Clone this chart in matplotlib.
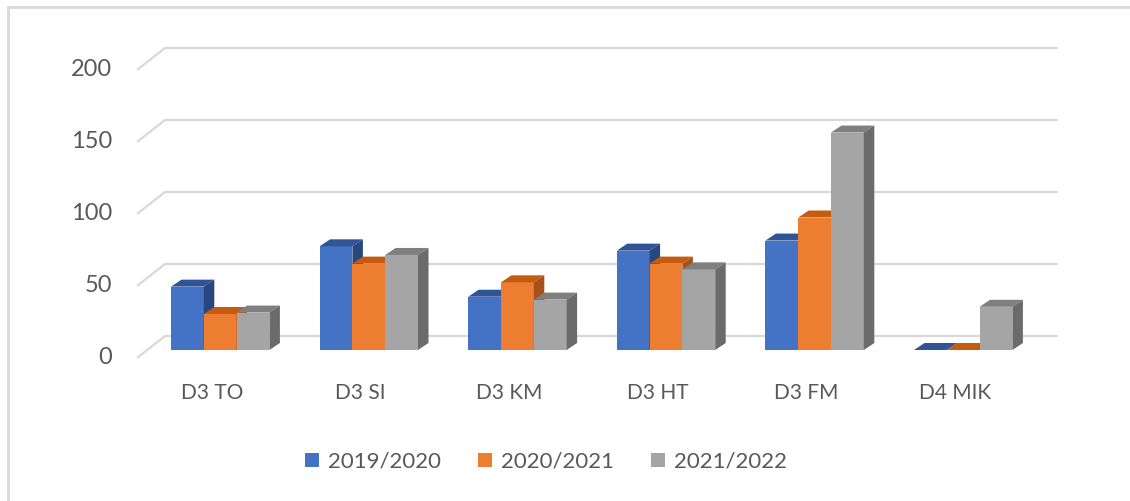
import matplotlib
matplotlib.use("Agg")
import matplotlib.pyplot as plt
from matplotlib.patches import Polygon, Patch
from matplotlib.lines import Line2D

# ---- data ----
categories = ["D3 TO", "D3 SI", "D3 KM", "D3 HT", "D3 FM", "D4 MIK"]
series_names = ["2019/2020", "2020/2021", "2021/2022"]
v2019 = [44, 72, 37, 69, 76, 0]
v2020 = [25, 60, 47, 60, 92, 0]
v2021 = [26, 66, 35, 56, 151, 30]
y_ticks = [0, 50, 100, 150, 200]

# ---- style ----
front_cols = ["#4472C4", "#ED7D31", "#A5A5A5"]
top_cols = ["#2F5597", "#C55A11", "#7F7F7F"]
side_cols = ["#284781", "#A9501A", "#6B6B6B"]
grid_col = "#D9D9D9"
text_col = "#595959"
FONT = "Lato"

W, H, DPI = 1130, 501, 100
fig = plt.figure(figsize=(W / DPI, H / DPI), dpi=DPI)

# layout (pixels)
ax_left_px, ax_right_px = 137, 1058
ax_top_px, ax_bot_px = 48, 358
px_per_cat = 148.6
cat0_px = 212
px_per_unit = 1.44
base_px = 350
wall_dx_px = 28.0
bar_depth_dx_px, bar_depth_dy_px = 10.5, 7.0
bar_left_off_px, bar_w_px = -41.0, 32.8

ax = fig.add_axes([ax_left_px / W, 1 - ax_bot_px / H,
                   (ax_right_px - ax_left_px) / W, (ax_bot_px - ax_top_px) / H])
xlim = ((ax_left_px - cat0_px) / px_per_cat, (ax_right_px - cat0_px) / px_per_cat)
ylim = (-(ax_bot_px - base_px) / px_per_unit, (base_px - ax_top_px) / px_per_unit)
ax.set_xlim(*xlim)
ax.set_ylim(*ylim)
ax.axis("off")

# gridlines (front diagonal + back wall)
wall_x = (ax_left_px + wall_dx_px - cat0_px) / px_per_cat
for v in y_ticks:
    y_front = v + ylim[0]
    y_back = v + ylim[0] + 22 / px_per_unit
    ax.plot([xlim[0], wall_x, xlim[1]], [y_front, y_back, y_back],
            color=grid_col, lw=1.6, zorder=1, solid_capstyle="butt", clip_on=False)
    ax.text(xlim[0] - 25 / px_per_cat, y_front, str(v), ha="right", va="center",
            fontsize=17, color=text_col, family=FONT)

# bars
series = [v2019, v2020, v2021]
bw = bar_w_px / px_per_cat
off0 = bar_left_off_px / px_per_cat
ddx = bar_depth_dx_px / px_per_cat
ddy = bar_depth_dy_px / px_per_unit
z = 3
for i, cat in enumerate(categories):
    for k, vals in enumerate(series):
        v = vals[i]
        x0 = i + off0 + k * bw
        x1 = x0 + bw
        ax.bar(x0, v, width=bw, align="edge", color=front_cols[k], zorder=z,
               linewidth=0)
        top = Polygon([(x0, v), (x1, v), (x1 + ddx, v + ddy), (x0 + ddx, v + ddy)],
                      closed=True, facecolor=top_cols[k], edgecolor="none", zorder=z)
        side = Polygon([(x1, 0), (x1 + ddx, ddy), (x1 + ddx, v + ddy), (x1, v)],
                       closed=True, facecolor=side_cols[k], edgecolor="none", zorder=z)
        ax.add_patch(top)
        ax.add_patch(side)
        z += 1
    ax.text(i, -(393 - base_px) / px_per_unit, cat, ha="center", va="center",
            fontsize=15, color=text_col, family=FONT, clip_on=False)

# legend
handles = [Patch(facecolor=c, edgecolor="none") for c in front_cols]
leg = fig.legend(handles, series_names, loc="center", bbox_to_anchor=(546 / W, 1 - 462 / H),
                 ncol=3, frameon=False, handlelength=0.6, handleheight=0.6,
                 handletextpad=0.4, columnspacing=1.7,
                 prop={"family": FONT, "size": 16})
for t in leg.get_texts():
    t.set_color(text_col)

# chart border (left & top visible)
fig.add_artist(Line2D([8 / W, 8 / W], [0, 1 - 7 / H], transform=fig.transFigure,
                      color=grid_col, lw=2))
fig.add_artist(Line2D([8 / W, 1], [1 - 7 / H, 1 - 7 / H], transform=fig.transFigure,
                      color=grid_col, lw=2))

fig.savefig("out.png", dpi=DPI, facecolor="white")
